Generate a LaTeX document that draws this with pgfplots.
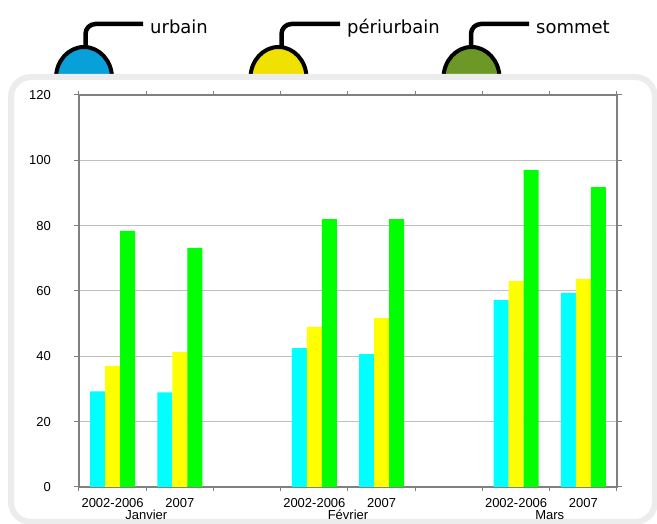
\documentclass[border=0pt]{standalone}
\usepackage{pgfplots}
\pgfplotsset{compat=1.18}
\usepackage{fontspec}
\setmainfont{Liberation Sans}
\newfontfamily\legfont{DejaVu Sans}

\definecolor{lampblue}{RGB}{8,160,216}
\definecolor{lampyellow}{RGB}{240,226,0}
\definecolor{lampgreen}{RGB}{108,152,40}
\definecolor{framegray}{RGB}{236,236,236}
\definecolor{axisgray}{RGB}{128,128,128}
\definecolor{gridgray}{RGB}{192,192,192}

\begin{document}
\begin{tikzpicture}[x=1pt,y=1pt]
\path[use as bounding box] (0,0) rectangle (657,524);

% legend lamps with their hooks
\foreach \cx/\hx/\ex/\col/\lab in {84/85.5/143/lampblue/urbain, 278.5/281.5/340/lampyellow/périurbain, 471.5/471/529/lampgreen/sommet}{
  \draw[line width=4.5pt, rounded corners=10pt] (\hx,470) -- (\hx,500) -- (\ex,500);
  \draw[line width=4pt, fill=\col] (\cx,446) ellipse [x radius=28, y radius=31];
  \node[anchor=base west, inner sep=0pt, font=\legfont\fontsize{18}{20}\selectfont] at (\ex+7,490) {\lab};
}

% rounded panel holding the chart
\draw[line width=6pt, draw=framegray, fill=white, rounded corners=20pt] (11,447) rectangle (655,2);

\begin{axis}[
  at={(79pt,37pt)}, anchor=south west,
  scale only axis, width=538pt, height=392pt,
  ybar=0pt, bar width=15pt,
  xmin=0.5, xmax=8.5, ymin=0, ymax=120,
  xtick={1,2,4,5,7,8},
  xticklabels={2002-2006,2007,2002-2006,2007,2002-2006,2007},
  minor xtick={0.5,1.5,...,8.5},
  ytick={0,20,...,120},
  ymajorgrids, grid style={draw=gridgray, line width=1pt},
  major x tick style={draw=none},
  minor x tick style={draw=axisgray, line width=1pt},
  y tick style={draw=axisgray, line width=1pt},
  tick align=outside, major tick length=5pt, minor tick length=4pt,
  axis line style={draw=axisgray, line width=1.5pt},
  /pgf/number format/assume math mode=true,
  tick label style={font=\fontsize{13}{15}\selectfont, inner sep=0pt},
  xticklabel style={anchor=base, yshift=-16pt},
  yticklabel style={anchor=east, xshift=-23pt},
  clip=false,
]
\addplot[fill={rgb,255:red,0;green,255;blue,255}, draw=none] coordinates
  {(1,29.3) (2,29.0) (4,42.5) (5,40.7) (7,57.2) (8,59.4)};
\addplot[fill={rgb,255:red,255;green,255;blue,0}, draw=none] coordinates
  {(1,37.1) (2,41.3) (4,49.0) (5,51.7) (7,63.0) (8,63.7)};
\addplot[fill={rgb,255:red,0;green,255;blue,0}, draw=none] coordinates
  {(1,78.4) (2,73.2) (4,82.0) (5,82.0) (7,97.0) (8,91.8)};

% month names under each pair of periods
\foreach \mx/\mname in {1.5/Janvier, 4.5/Février, 7.5/Mars}{
  \edef\tmp{\noexpand\node[anchor=base, inner sep=0pt, font=\noexpand\fontsize{13}{15}\noexpand\selectfont, yshift=-33pt] at (axis cs:\mx,0) {\mname};}
  \tmp
}
\end{axis}
\end{tikzpicture}
\end{document}
